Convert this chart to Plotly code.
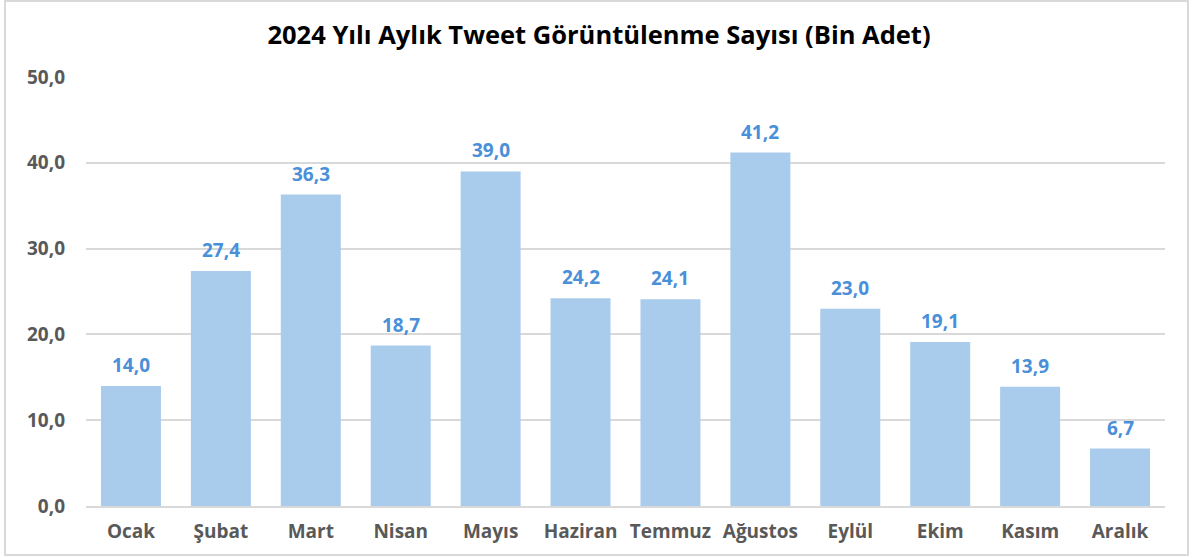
import plotly.graph_objects as go

months = ["Ocak", "Şubat", "Mart", "Nisan", "Mayıs", "Haziran", "Temmuz",
          "Ağustos", "Eylül", "Ekim", "Kasım", "Aralık"]
views = [14.0, 27.4, 36.3, 18.7, 39.0, 24.2, 24.1, 41.2, 23.0, 19.1, 13.9, 6.7]
tick_vals = [0, 10, 20, 30, 40, 50]

FONT = "Open Sans"

fig = go.Figure()
fig.add_trace(go.Bar(
    x=months, y=views,
    marker=dict(color="#A9CBEC", line=dict(width=0)),
    hoverinfo="skip",
))

for m, v in zip(months, views):
    fig.add_annotation(
        x=m, y=v, text=f"{v:.1f}".replace(".", ","),
        showarrow=False, yanchor="bottom", yshift=6,
        font=dict(family=FONT, size=19, color="#4A90D9", weight="bold"),
    )

L, R, T, B = 86, 30, 77, 52
W, H = 1195, 558
pw, ph = W - L - R, H - T - B

fig.add_shape(
    type="rect", xref="paper", yref="paper",
    x0=(5 - L) / pw, x1=(1188 - L) / pw,
    y0=(H - B - 555) / ph, y1=(H - B - 1) / ph,
    line=dict(color="#D9D9D9", width=2), fillcolor="rgba(0,0,0,0)", layer="below",
)

fig.update_layout(
    width=W, height=H,
    margin=dict(l=L, r=R, t=T, b=B),
    paper_bgcolor="white", plot_bgcolor="white",
    separators=",.",
    bargap=0.333,
    showlegend=False,
    title=dict(
        text="2024 Yılı Aylık Tweet Görüntülenme Sayısı (Bin Adet)",
        x=599 / W, xanchor="center", y=1 - 35.5 / H, yanchor="middle",
        font=dict(family=FONT, size=25.5, color="#000000", weight="bold"),
    ),
    xaxis=dict(
        showgrid=False, showline=True, linecolor="#D9D9D9", linewidth=2,
        ticks="", tickfont=dict(family=FONT, size=19, color="#595959", weight="bold"),
        ticklabelstandoff=7,
    ),
    yaxis=dict(
        range=[0, 50], tickvals=tick_vals, tickformat=".1f",
        showgrid=True, gridcolor="#D9D9D9", gridwidth=2,
        zeroline=False, showline=False, ticks="",
        tickfont=dict(family=FONT, size=19, color="#595959", weight="bold"),
        ticklabelstandoff=20,
    ),
)

fig.write_html("out.html", config={"displayModeBar": False},
               post_script="document.body.style.margin='0';")
